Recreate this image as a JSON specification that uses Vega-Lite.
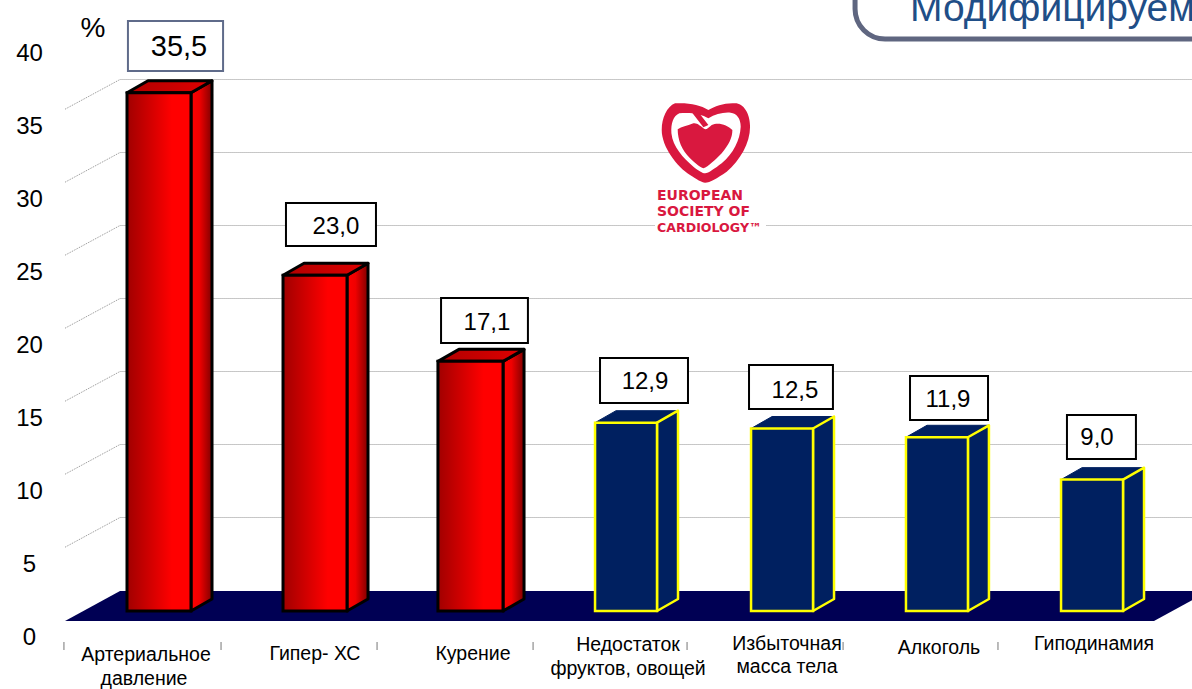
{
"$schema":"https://vega.github.io/schema/vega-lite/v6.json",
"width":1192,"height":689,"padding":0,"autosize":{"type":"none"},"background":"white",
"config":{"view":{"stroke":null},"axisX":{"disable":true},"text":{"font":"Liberation Sans"}},
"resolve":{"axis":{"y":"independent"}},
"datasets":{
"bars":[
{"name":"Артериальное давление","value":35.5,"text":"35,5","group":"red","l":1.000,"r":1.411,"bx0":1.006,"bx1":1.617,"by0":36.986,"by1":40.411,"tx":1.334,"ty":38.699},
{"name":"Гипер- ХС","value":23.0,"text":"23,0","group":"red","l":2.002,"r":2.413,"bx0":2.021,"bx1":2.599,"by0":25.0,"by1":27.945,"tx":2.342,"ty":26.438},
{"name":"Курение","value":17.1,"text":"17,1","group":"red","l":2.997,"r":3.415,"bx0":3.017,"bx1":3.575,"by0":18.356,"by1":21.438,"tx":3.312,"ty":19.863},
{"name":"Недостаток фруктов, овощей","value":12.9,"text":"12,9","group":"blue","l":4.006,"r":4.404,"bx0":4.038,"bx1":4.603,"by0":14.247,"by1":17.329,"tx":4.327,"ty":15.822},
{"name":"Избыточная масса тела","value":12.5,"text":"12,5","group":"blue","l":5.008,"r":5.406,"bx0":4.995,"bx1":5.534,"by0":13.836,"by1":16.849,"tx":5.29,"ty":15.205},
{"name":"Алкоголь","value":11.9,"text":"11,9","group":"blue","l":6.003,"r":6.401,"bx0":6.029,"bx1":6.53,"by0":13.082,"by1":16.096,"tx":6.273,"ty":14.589},
{"name":"Гиподинамия","value":9.0,"text":"9,0","group":"blue","l":6.999,"r":7.397,"bx0":7.037,"bx1":7.48,"by0":10.411,"by1":13.425,"tx":7.23,"ty":11.918}
],
"sides":[
{"bar":1,"group":"red","x":1.411,"lo":0,"hi":35.5},{"bar":1,"group":"red","x":1.546,"lo":0.82,"hi":36.32},
{"bar":2,"group":"red","x":2.413,"lo":0,"hi":23},{"bar":2,"group":"red","x":2.548,"lo":0.82,"hi":23.82},
{"bar":3,"group":"red","x":3.415,"lo":0,"hi":17.1},{"bar":3,"group":"red","x":3.55,"lo":0.82,"hi":17.92},
{"bar":4,"group":"blue","x":4.404,"lo":0,"hi":12.9},{"bar":4,"group":"blue","x":4.539,"lo":0.82,"hi":13.72},
{"bar":5,"group":"blue","x":5.406,"lo":0,"hi":12.5},{"bar":5,"group":"blue","x":5.541,"lo":0.82,"hi":13.32},
{"bar":6,"group":"blue","x":6.401,"lo":0,"hi":11.9},{"bar":6,"group":"blue","x":6.536,"lo":0.82,"hi":12.72},
{"bar":7,"group":"blue","x":7.397,"lo":0,"hi":9},{"bar":7,"group":"blue","x":7.532,"lo":0.82,"hi":9.82}
],
"tops":[
{"bar":1,"group":"red","x":1.000,"lo":35.5,"hi":35.5},{"bar":1,"group":"red","x":1.135,"lo":35.5,"hi":36.32},{"bar":1,"group":"red","x":1.411,"lo":35.5,"hi":36.32},{"bar":1,"group":"red","x":1.546,"lo":36.32,"hi":36.32},
{"bar":2,"group":"red","x":2.002,"lo":23,"hi":23},{"bar":2,"group":"red","x":2.137,"lo":23,"hi":23.82},{"bar":2,"group":"red","x":2.413,"lo":23,"hi":23.82},{"bar":2,"group":"red","x":2.548,"lo":23.82,"hi":23.82},
{"bar":3,"group":"red","x":2.997,"lo":17.1,"hi":17.1},{"bar":3,"group":"red","x":3.132,"lo":17.1,"hi":17.92},{"bar":3,"group":"red","x":3.415,"lo":17.1,"hi":17.92},{"bar":3,"group":"red","x":3.55,"lo":17.92,"hi":17.92},
{"bar":4,"group":"blue","x":4.006,"lo":12.9,"hi":12.9},{"bar":4,"group":"blue","x":4.141,"lo":12.9,"hi":13.72},{"bar":4,"group":"blue","x":4.404,"lo":12.9,"hi":13.72},{"bar":4,"group":"blue","x":4.539,"lo":13.72,"hi":13.72},
{"bar":5,"group":"blue","x":5.008,"lo":12.5,"hi":12.5},{"bar":5,"group":"blue","x":5.143,"lo":12.5,"hi":13.32},{"bar":5,"group":"blue","x":5.406,"lo":12.5,"hi":13.32},{"bar":5,"group":"blue","x":5.541,"lo":13.32,"hi":13.32},
{"bar":6,"group":"blue","x":6.003,"lo":11.9,"hi":11.9},{"bar":6,"group":"blue","x":6.138,"lo":11.9,"hi":12.72},{"bar":6,"group":"blue","x":6.401,"lo":11.9,"hi":12.72},{"bar":6,"group":"blue","x":6.536,"lo":12.72,"hi":12.72},
{"bar":7,"group":"blue","x":6.999,"lo":9,"hi":9},{"bar":7,"group":"blue","x":7.134,"lo":9,"hi":9.82},{"bar":7,"group":"blue","x":7.397,"lo":9,"hi":9.82},{"bar":7,"group":"blue","x":7.532,"lo":9.82,"hi":9.82}
],
"floor":[{"x":0.602,"lo":-0.68,"hi":-0.68},{"x":0.955,"lo":-0.68,"hi":1.37},{"x":7.596,"lo":-0.68,"hi":1.37},{"x":7.949,"lo":1.37,"hi":1.37}],
"grid":[
{"k":40,"x":0.602,"v":34.37},{"k":40,"x":0.955,"v":36.404},{"k":40,"x":7.85,"v":36.404},
{"k":35,"x":0.602,"v":29.37},{"k":35,"x":0.955,"v":31.404},{"k":35,"x":7.85,"v":31.404},
{"k":30,"x":0.602,"v":24.37},{"k":30,"x":0.955,"v":26.404},{"k":30,"x":7.85,"v":26.404},
{"k":25,"x":0.602,"v":19.37},{"k":25,"x":0.955,"v":21.404},{"k":25,"x":7.85,"v":21.404},
{"k":20,"x":0.602,"v":14.37},{"k":20,"x":0.955,"v":16.404},{"k":20,"x":7.85,"v":16.404},
{"k":15,"x":0.602,"v":9.37},{"k":15,"x":0.955,"v":11.404},{"k":15,"x":7.85,"v":11.404},
{"k":10,"x":0.602,"v":4.37},{"k":10,"x":0.955,"v":6.404},{"k":10,"x":7.85,"v":6.404}
],
"ticks":[{"x":0.595},{"x":1.604},{"x":2.606},{"x":3.608},{"x":4.597},{"x":5.599},{"x":6.594}],
"labels":[
{"t":"Артериальное","x":1.122,"v":-2.945},{"t":"давление","x":1.109,"v":-4.589},
{"t":"Гипер- ХС","x":2.207,"v":-2.877},{"t":"Курение","x":3.222,"v":-2.877},
{"t":"Недостаток","x":4.218,"v":-2.26},{"t":"фруктов, овощей","x":4.218,"v":-3.904},
{"t":"Избыточная","x":5.239,"v":-2.192},{"t":"масса тела","x":5.239,"v":-3.767},
{"t":"Алкоголь","x":6.215,"v":-2.466},{"t":"Гиподинамия","x":7.211,"v":-2.192}
],
"logo":[{"x":4.719,"v":32.055}]
},
"layer":[
{"data":{"name":"grid"},"mark":{"type":"line","stroke":"#909090","strokeWidth":1,"strokeDash":[1,1]},
 "encoding":{"x":{"field":"x","type":"quantitative","scale":{"domain":[0.1843,7.8401],"nice":false,"zero":false}},
 "y":{"field":"v","type":"quantitative","scale":{"domain":[-5.342,41.849],"nice":false,"zero":false},"title":null,
  "axis":{"values":[0,5,10,15,20,25,30,35,40],"domain":false,"ticks":false,"grid":false,"labelOffset":26.5,"offset":-29,"labelAlign":"center","labelPadding":0,"labelFontSize":24,"labelFont":"Liberation Sans","labelColor":"#000000","labelBaseline":"middle","title":null}},
 "detail":{"field":"k"}}},
{"data":{"name":"floor"},"mark":{"type":"area","orient":"vertical","fill":"#000054"},
 "encoding":{"x":{"field":"x","type":"quantitative"},"y":{"field":"lo","type":"quantitative","axis":null,"stack":null},"y2":{"field":"hi"}}},
{"data":{"name":"sides"},"transform":[{"filter":"datum.group==='red'"}],
 "mark":{"type":"area","orient":"vertical","stroke":"#000000","strokeWidth":3,"strokeJoin":"round","color":{"x1":0,"x2":1,"y1":0,"y2":0,"gradient":"linear","stops":[{"offset":0,"color":"#ff0000"},{"offset":0.4,"color":"#f00000"},{"offset":1,"color":"#800000"}]}},
 "encoding":{"x":{"field":"x","type":"quantitative"},"y":{"field":"lo","type":"quantitative","axis":null,"stack":null},"y2":{"field":"hi"},"detail":{"field":"bar"}}},
{"data":{"name":"tops"},"transform":[{"filter":"datum.group==='red'"}],
 "mark":{"type":"area","orient":"vertical","stroke":"#000000","strokeWidth":3,"strokeJoin":"round","color":{"x1":0,"x2":1,"y1":0,"y2":0,"gradient":"linear","stops":[{"offset":0,"color":"#b00000"},{"offset":1,"color":"#e00000"}]}},
 "encoding":{"x":{"field":"x","type":"quantitative"},"y":{"field":"lo","type":"quantitative","axis":null,"stack":null},"y2":{"field":"hi"},"detail":{"field":"bar"}}},
{"data":{"name":"tops"},"transform":[{"filter":"datum.group==='blue'"}],
 "mark":{"type":"area","orient":"vertical","fill":"#002060","stroke":"#002060","strokeWidth":1},
 "encoding":{"x":{"field":"x","type":"quantitative"},"y":{"field":"lo","type":"quantitative","axis":null,"stack":null},"y2":{"field":"hi"},"detail":{"field":"bar"}}},
{"data":{"name":"sides"},"transform":[{"filter":"datum.group==='blue'"}],
 "mark":{"type":"area","orient":"vertical","stroke":"#ffff00","strokeWidth":2.5,"strokeJoin":"round","fill":"#002060"},
 "encoding":{"x":{"field":"x","type":"quantitative"},"y":{"field":"lo","type":"quantitative","axis":null,"stack":null},"y2":{"field":"hi"},"detail":{"field":"bar"}}},
{"data":{"name":"bars"},"transform":[{"filter":"datum.group==='red'"}],
 "mark":{"type":"rect","stroke":"#000000","strokeWidth":3,"color":{"x1":0,"x2":1,"y1":0,"y2":0,"gradient":"linear","stops":[{"offset":0,"color":"#a00000"},{"offset":0.7,"color":"#ff0000"},{"offset":1,"color":"#ff0000"}]}},
 "encoding":{"x":{"field":"l","type":"quantitative"},"x2":{"field":"r"},"y":{"field":"value","type":"quantitative","axis":null},"y2":{"datum":0}}},
{"data":{"name":"bars"},"transform":[{"filter":"datum.group==='blue'"}],
 "mark":{"type":"rect","stroke":"#ffff00","strokeWidth":2.5,"fill":"#002060"},
 "encoding":{"x":{"field":"l","type":"quantitative"},"x2":{"field":"r"},"y":{"field":"value","type":"quantitative","axis":null},"y2":{"datum":0}}},
{"data":{"name":"bars"},"transform":[{"filter":"datum.value<30"}],
 "mark":{"type":"rect","fill":"#ffffff","stroke":"#000000","strokeWidth":2},
 "encoding":{"x":{"field":"bx0","type":"quantitative"},"x2":{"field":"bx1"},"y":{"field":"by0","type":"quantitative","axis":null},"y2":{"field":"by1"}}},
{"data":{"name":"bars"},"transform":[{"filter":"datum.value>30"}],
 "mark":{"type":"rect","fill":"#ffffff","stroke":"#5f6b8a","strokeWidth":2},
 "encoding":{"x":{"field":"bx0","type":"quantitative"},"x2":{"field":"bx1"},"y":{"field":"by0","type":"quantitative","axis":null},"y2":{"field":"by1"}}},
{"data":{"name":"bars"},"transform":[{"filter":"datum.value<30"}],
 "mark":{"type":"text","fontSize":24,"font":"Liberation Sans","color":"#000000","align":"center","baseline":"middle","dy":1.5},
 "encoding":{"x":{"field":"tx","type":"quantitative"},"y":{"field":"ty","type":"quantitative","axis":null},"text":{"field":"text"}}},
{"data":{"name":"bars"},"transform":[{"filter":"datum.value>30"}],
 "mark":{"type":"text","fontSize":29,"font":"Liberation Sans","color":"#000000","align":"center","baseline":"middle","dy":1.5},
 "encoding":{"x":{"field":"tx","type":"quantitative"},"y":{"field":"ty","type":"quantitative","axis":null},"text":{"field":"text"}}},
{"data":{"values":[{"t":"%","x":0.782,"v":39.93}]},
 "mark":{"type":"text","fontSize":28,"font":"Liberation Sans","color":"#000000","align":"center","baseline":"middle","dy":1},
 "encoding":{"x":{"field":"x","type":"quantitative"},"y":{"field":"v","type":"quantitative","axis":null},"text":{"field":"t"}}},
{"data":{"name":"ticks"},"mark":{"type":"rule","stroke":"#777777","strokeWidth":1},
 "encoding":{"x":{"field":"x","type":"quantitative"},"y":{"datum":-2.123,"type":"quantitative","axis":null},"y2":{"datum":-2.671}}},
{"data":{"name":"labels"},
 "mark":{"type":"text","fontSize":19.5,"font":"Liberation Sans","color":"#000000","align":"center","baseline":"middle","dy":1},
 "encoding":{"x":{"field":"x","type":"quantitative"},"y":{"field":"v","type":"quantitative","axis":null},"text":{"field":"t"}}},
{"data":{"values":[{"x0":4.391,"x1":5.104,"v0":25.82,"v1":29.04}]},
 "mark":{"type":"rect","fill":"#ffffff"},
 "encoding":{"x":{"field":"x0","type":"quantitative"},"x2":{"field":"x1"},"y":{"field":"v0","type":"quantitative","axis":null},"y2":{"field":"v1"}}},
{"data":{"name":"logo"},"mark":{"type":"point","filled":true,"fill":"#d9183f","opacity":1,"size":8100,"strokeWidth":0,
 "shape":"M.052,-.733C-.133,-.844,-.356,-.896,-.689,-.881C-.874,-.807,-.985,-.548,-.985,-.289C-.985,.081,-.652,.526,-.356,.711C-.207,.807,-.096,.881,-.022,.881C.089,.881,.237,.785,.459,.637C.756,.378,.978,.007,.978,-.363C.978,-.659,.83,-.881,.644,-.881C.422,-.896,.2,-.822,.052,-.733Z"},
 "encoding":{"x":{"field":"x","type":"quantitative"},"y":{"field":"v","type":"quantitative","axis":null}}},
{"data":{"name":"logo"},"mark":{"type":"point","filled":true,"fill":"#ffffff","opacity":1,"size":8100,"strokeWidth":0,
 "shape":"M.052,-.548C-.096,-.644,-.356,-.689,-.593,-.659C-.726,-.6,-.785,-.437,-.77,-.215C-.741,.081,-.504,.341,-.281,.526C-.17,.615,-.074,.674,-.022,.674C.052,.674,.2,.563,.348,.452C.607,.23,.756,-.067,.77,-.363C.77,-.548,.681,-.659,.548,-.674C.385,-.689,.2,-.644,.052,-.548Z"},
 "encoding":{"x":{"field":"x","type":"quantitative"},"y":{"field":"v","type":"quantitative","axis":null}}},
{"data":{"name":"logo"},"mark":{"type":"point","filled":true,"fill":"#d9183f","opacity":1,"size":8100,"strokeWidth":0,
 "shape":"M-.022,-.304C-.133,-.378,-.193,-.452,-.281,-.437C-.43,-.378,-.541,-.363,-.63,-.304C-.63,-.067,-.541,.156,-.356,.341C-.244,.452,-.133,.541,-.059,.563C.052,.526,.2,.378,.348,.23C.496,.044,.585,-.104,.585,-.289C.474,-.4,.274,-.474,.126,-.4C.074,-.363,.03,-.304,-.022,-.304ZM-.356,-.733L-.207,-.733L.052,-.4L-.059,-.348Z"},
 "encoding":{"x":{"field":"x","type":"quantitative"},"y":{"field":"v","type":"quantitative","axis":null}}},
{"data":{"values":[{"t":"EUROPEAN","x":4.404,"v":28.45}]},
 "mark":{"type":"text","fontSize":14,"fontWeight":"bold","font":"DejaVu Sans","color":"#d9183f","align":"left","baseline":"middle"},
 "encoding":{"x":{"field":"x","type":"quantitative"},"y":{"field":"v","type":"quantitative","axis":null},"text":{"field":"t"}}},
{"data":{"values":[{"t":"SOCIETY OF","x":4.404,"v":27.35}]},
 "mark":{"type":"text","fontSize":14,"fontWeight":"bold","font":"DejaVu Sans","color":"#d9183f","align":"left","baseline":"middle"},
 "encoding":{"x":{"field":"x","type":"quantitative"},"y":{"field":"v","type":"quantitative","axis":null},"text":{"field":"t"}}},
{"data":{"values":[{"t":"CARDIOLOGY™","x":4.404,"v":26.2}]},
 "mark":{"type":"text","fontSize":12.6,"fontWeight":"bold","font":"DejaVu Sans","color":"#d9183f","align":"left","baseline":"middle"},
 "encoding":{"x":{"field":"x","type":"quantitative"},"y":{"field":"v","type":"quantitative","axis":null},"text":{"field":"t"}}},
{"data":{"values":[{"x0":5.676,"x1":8.148,"v0":39.18,"v1":43.9}]},
 "mark":{"type":"rect","fill":"#ffffff","stroke":"#5f6680","strokeWidth":5,"cornerRadius":30},
 "encoding":{"x":{"field":"x0","type":"quantitative"},"x2":{"field":"x1"},"y":{"field":"v0","type":"quantitative","axis":null},"y2":{"field":"v1"}}},
{"data":{"values":[{"t":"Модифицируемые","x":6.029,"v":40.41}]},
 "mark":{"type":"text","fontSize":39,"font":"Liberation Sans","color":"#1f4e87","align":"left","baseline":"alphabetic"},
 "encoding":{"x":{"field":"x","type":"quantitative"},"y":{"field":"v","type":"quantitative","axis":null},"text":{"field":"t"}}}
]
}
